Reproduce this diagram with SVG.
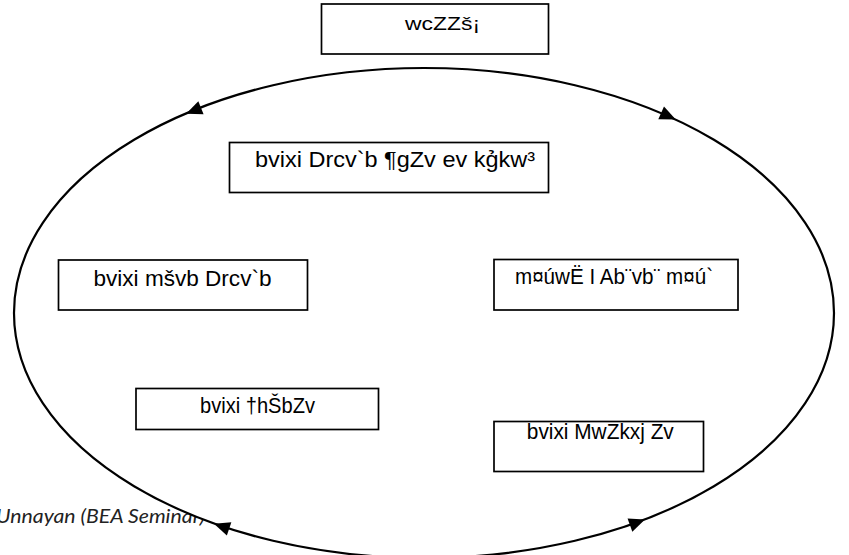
<svg xmlns="http://www.w3.org/2000/svg" xmlns:xlink="http://www.w3.org/1999/xlink" width="849" height="555" viewBox="0 0 849 555">
<style>
.box{fill:#fff;stroke:#000;stroke-width:1.7}
.t{font-family:"Liberation Sans Narrow","Liberation Sans",Arial,sans-serif;font-size:22px;fill:#000;text-anchor:middle}
.ring{fill:#fff;stroke:#000;stroke-width:2.2}
.foot{font-family:Lato,"Open Sans",sans-serif;font-style:italic;font-size:19px;fill:#222}
</style>
<defs>
<path id="ah" d="M8.5,0 L-7.5,-7 L-7.5,7 Z" fill="#000"/>
</defs>
<rect width="849" height="555" fill="#fff"/>
<text class="foot" x="-4" y="523" textLength="209" lengthAdjust="spacingAndGlyphs">Unnayan (BEA Seminar)</text>
<g id="connectors">
<ellipse class="ring" cx="424" cy="313" rx="410" ry="245"/>
<use xlink:href="#ah" transform="translate(194,110.5) rotate(158)"/>
<use xlink:href="#ah" transform="translate(668,116) rotate(24)"/>
<use xlink:href="#ah" transform="translate(637,522.5) rotate(-20)"/>
<use xlink:href="#ah" transform="translate(222,526.5) rotate(198.7)"/>
</g>
<g id="node-top">
<rect class="box" x="321.5" y="4" width="227" height="50"/>
<text class="t" x="442.5" y="30" style="font-size:18px" textLength="75" lengthAdjust="spacingAndGlyphs">wcZZš¡</text>
</g>
<g id="node-capacity">
<rect class="box" x="229.5" y="142.5" width="319" height="50"/>
<text class="t" x="395" y="167.3" textLength="280" lengthAdjust="spacingAndGlyphs">bvixi Drcv`b ¶gZv ev kg̉kw³</text>
</g>
<g id="node-birth">
<rect class="box" x="58.5" y="260" width="249" height="50"/>
<text class="t" x="182.5" y="286" textLength="178" lengthAdjust="spacingAndGlyphs">bvixi mšvb Drcv`b</text>
</g>
<g id="node-property">
<rect class="box" x="494" y="259.5" width="244" height="50.5"/>
<text class="t" x="614" y="284.3" textLength="198" lengthAdjust="spacingAndGlyphs">m¤úwË I Ab¨vb¨ m¤ú`</text>
</g>
<g id="node-sexuality">
<rect class="box" x="136" y="388.5" width="242.5" height="41"/>
<text class="t" x="257.5" y="413.3" textLength="115" lengthAdjust="spacingAndGlyphs">bvixi †hŠbZv</text>
</g>
<g id="node-mobility">
<rect class="box" x="494" y="421.5" width="209.5" height="50"/>
<text class="t" x="600.3" y="439.3" textLength="147" lengthAdjust="spacingAndGlyphs">bvixi MwZkxj Zv</text>
</g>
</svg>
